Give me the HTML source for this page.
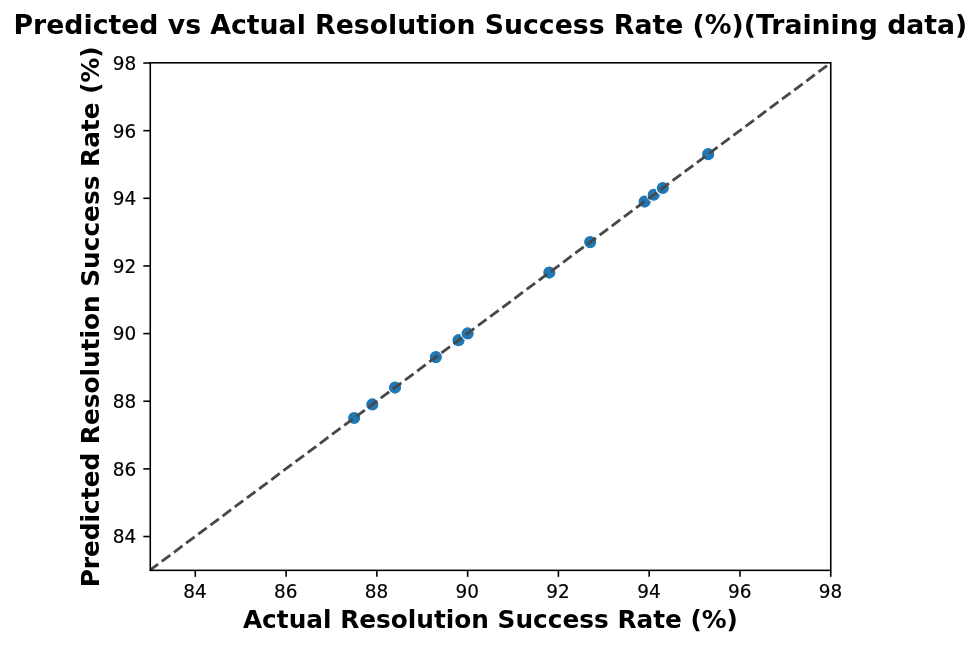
<!DOCTYPE html>
<html lang="en"><head><meta charset="utf-8"><title>Predicted vs Actual Resolution Success Rate (%)(Training data)</title>
<style>
html,body{margin:0;padding:0;background:#fff;}
body{width:980px;height:647px;overflow:hidden;}
svg{display:block;}
text{font-family:"DejaVu Sans","Liberation Sans",sans-serif;fill:#000;}
.b{font-weight:bold;}
</style></head><body>
<svg width="980" height="647" viewBox="0 0 980 647">
<rect width="980" height="647" fill="#fff"/>
<defs><clipPath id="ax"><rect x="150.27" y="62.8" width="680.48" height="507.55"/></clipPath></defs>
<g fill="#1f77b4" stroke="#fff" stroke-width="1.2">
<circle cx="354.15" cy="418.00" r="6.7"/>
<circle cx="372.31" cy="404.47" r="6.7"/>
<circle cx="395.01" cy="387.56" r="6.7"/>
<circle cx="435.86" cy="357.12" r="6.7"/>
<circle cx="458.55" cy="340.21" r="6.7"/>
<circle cx="467.63" cy="333.44" r="6.7"/>
<circle cx="549.33" cy="272.56" r="6.7"/>
<circle cx="590.18" cy="242.12" r="6.7"/>
<circle cx="644.65" cy="201.53" r="6.7"/>
<circle cx="653.73" cy="194.77" r="6.7"/>
<circle cx="662.81" cy="188.00" r="6.7"/>
<circle cx="708.20" cy="154.18" r="6.7"/>
</g>
<line x1="149.90" y1="570.20" x2="830.75" y2="62.86" stroke="#484848" stroke-width="2.86" stroke-dasharray="10.585 4.582" stroke-dashoffset="0.35" clip-path="url(#ax)"/>
<rect x="150.27" y="62.80" width="680.48" height="507.55" fill="none" stroke="#000" stroke-width="1.58"/>
<g stroke="#000" stroke-width="1.6">
<line x1="195.29" y1="570.35" x2="195.29" y2="576.85"/>
<line x1="150.27" y1="536.53" x2="143.3" y2="536.53"/>
<line x1="286.07" y1="570.35" x2="286.07" y2="576.85"/>
<line x1="150.27" y1="468.88" x2="143.3" y2="468.88"/>
<line x1="376.85" y1="570.35" x2="376.85" y2="576.85"/>
<line x1="150.27" y1="401.24" x2="143.3" y2="401.24"/>
<line x1="467.63" y1="570.35" x2="467.63" y2="576.85"/>
<line x1="150.27" y1="333.59" x2="143.3" y2="333.59"/>
<line x1="558.41" y1="570.35" x2="558.41" y2="576.85"/>
<line x1="150.27" y1="265.95" x2="143.3" y2="265.95"/>
<line x1="649.19" y1="570.35" x2="649.19" y2="576.85"/>
<line x1="150.27" y1="198.30" x2="143.3" y2="198.30"/>
<line x1="739.97" y1="570.35" x2="739.97" y2="576.85"/>
<line x1="150.27" y1="130.66" x2="143.3" y2="130.66"/>
<line x1="830.75" y1="570.35" x2="830.75" y2="576.85"/>
<line x1="150.27" y1="63.01" x2="143.3" y2="63.01"/>
</g>
<g font-size="19.0" stroke="#000" stroke-width="0.18">
<text transform="translate(194.99 597.6) scale(0.972 1.035)" text-anchor="middle">84</text>
<text transform="translate(285.77 597.6) scale(0.972 1.035)" text-anchor="middle">86</text>
<text transform="translate(376.55 597.6) scale(0.972 1.035)" text-anchor="middle">88</text>
<text transform="translate(467.33 597.6) scale(0.972 1.035)" text-anchor="middle">90</text>
<text transform="translate(558.11 597.6) scale(0.972 1.035)" text-anchor="middle">92</text>
<text transform="translate(648.89 597.6) scale(0.972 1.035)" text-anchor="middle">94</text>
<text transform="translate(739.67 597.6) scale(0.972 1.035)" text-anchor="middle">96</text>
<text transform="translate(830.45 597.6) scale(0.972 1.035)" text-anchor="middle">98</text>
<text transform="translate(136.3 543.38) scale(0.972 1.035)" text-anchor="end">84</text>
<text transform="translate(136.3 475.73) scale(0.972 1.035)" text-anchor="end">86</text>
<text transform="translate(136.3 408.09) scale(0.972 1.035)" text-anchor="end">88</text>
<text transform="translate(136.3 340.44) scale(0.972 1.035)" text-anchor="end">90</text>
<text transform="translate(136.3 272.80) scale(0.972 1.035)" text-anchor="end">92</text>
<text transform="translate(136.3 205.15) scale(0.972 1.035)" text-anchor="end">94</text>
<text transform="translate(136.3 137.51) scale(0.972 1.035)" text-anchor="end">96</text>
<text transform="translate(136.3 69.86) scale(0.972 1.035)" text-anchor="end">98</text>
</g>
<text class="b" x="490.4" y="33.7" font-size="26.71" text-anchor="middle">Predicted vs Actual Resolution Success Rate (%)(Training data)</text>
<text class="b" x="490.45" y="627.75" font-size="24.79" text-anchor="middle">Actual Resolution Success Rate (%)</text>
<text class="b" transform="translate(99.1 316.85) rotate(-90)" font-size="24.79" text-anchor="middle">Predicted Resolution Success Rate (%)</text>
</svg></body></html>
